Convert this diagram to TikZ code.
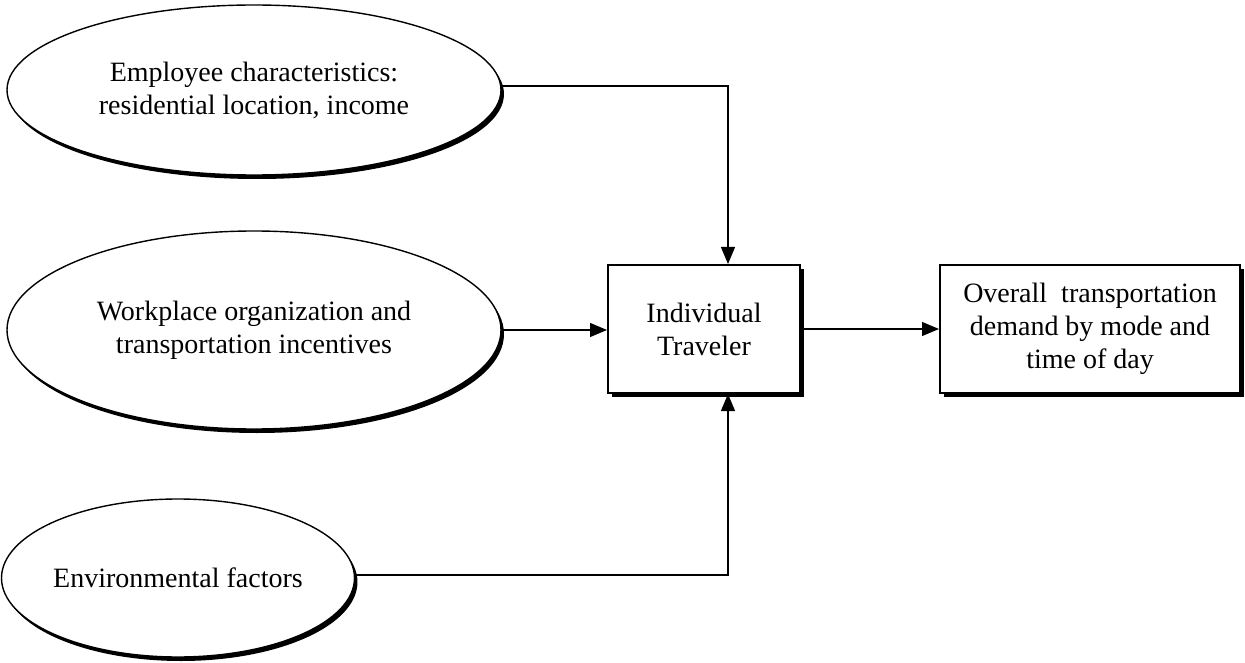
\documentclass[tikz,border=0pt]{standalone}
\usepackage{fontspec}
\setmainfont{Liberation Serif}
\usetikzlibrary{shapes.geometric,arrows.meta,shadows}
\begin{document}
\begin{tikzpicture}[x=1pt,y=-1pt,
  lbl/.style={align=center,font=\fontsize{28}{33}\selectfont,inner sep=0pt},
  oval/.style={ellipse,draw,line width=1.4pt,fill=white,lbl,
    drop shadow={shadow xshift=3pt,shadow yshift=-4pt,fill=black,opacity=1}},
  boxn/.style={rectangle,draw,line width=2pt,fill=white,lbl,
    drop shadow={shadow xshift=4pt,shadow yshift=-4pt,fill=black,opacity=1}},
  conn/.style={line width=1.2pt,-{Triangle[length=17pt,width=14pt]}}]
\useasboundingbox (0,0) rectangle (1245,663);
\node[oval,minimum width=494pt,minimum height=170pt] (emp) at (254,90)
  {Employee characteristics:\\residential location, income};
\node[oval,minimum width=494pt,minimum height=198pt] (wp) at (254,330)
  {Workplace organization and\\transportation incentives};
\node[oval,minimum width=345pt,minimum height=158pt] (env) at (178,578)
  {Environmental factors};
\node[boxn,minimum width=192pt,minimum height=128pt] (trav) at (704,329)
  {Individual\\Traveler};
\node[boxn,minimum width=300pt,minimum height=128pt] (dem) at (1090,329)
  {Overall\ \ transportation\\demand by mode and\\time of day};
\draw[conn] ([yshift=4pt]emp.east) -| ([xshift=24pt]trav.north);
\draw[conn] (wp.east) -- (trav.west |- wp.east);
\draw[conn] ([yshift=3pt]env.east) -| ([xshift=24pt]trav.south);
\draw[conn] (trav.east) -- (dem.west);
\end{tikzpicture}
\end{document}
